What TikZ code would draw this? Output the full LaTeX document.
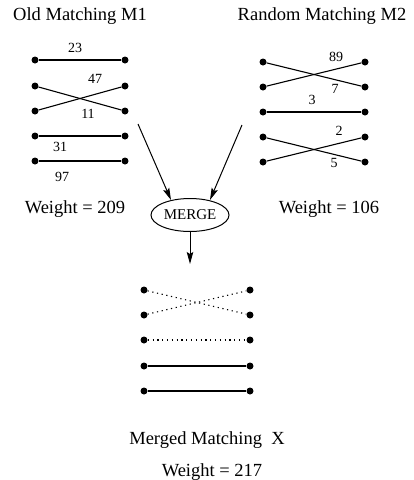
\documentclass[tikz,border=0pt]{standalone}
\usepackage{fontspec}
\setmainfont{Liberation Serif}
\usetikzlibrary{arrows.meta,shapes.geometric}
\tikzset{
  dot/.style={circle,fill=black,inner sep=0pt,minimum size=7pt},
  edge/.style={line width=1.1pt},
  dotedge/.style={line width=1.1pt,dash pattern=on 1.2pt off 3.6pt},
  num/.style={font=\fontsize{14}{16}\selectfont,inner sep=0pt},
  title/.style={font=\fontsize{18.5}{21}\selectfont,inner sep=0pt},
  arr/.style={line width=1pt,-{Stealth[length=12pt,width=6.5pt,inset=2pt]}},
}
\begin{document}
\begin{tikzpicture}[x=1pt,y=-1pt]
\useasboundingbox (0,0) rectangle (414,480);
% titles
\node[title] (t1) at (80,16) {Old Matching M1};
\node[title] (t2) at (322,16) {Random Matching M2};
% left group
\foreach \i/\y in {1/60,2/86,3/111,4/136,5/161}{
  \node[dot] (La\i) at (35,\y) {};
  \node[dot] (Lb\i) at (125,\y) {};
}
\draw[edge] (La1) -- (Lb1);
\draw[edge] (La2) -- (Lb3);
\draw[edge] (La3) -- (Lb2);
\draw[edge] (La4) -- (Lb4);
\draw[edge] (La5) -- (Lb5);
\node[num] (n23) at (75,48) {23};
\node[num] (n47) at (95,79) {47};
\node[num] (n11) at (88,114) {11};
\node[num] (n31) at (60,147) {31};
\node[num] (n97) at (62,177) {97};
\node[title] (w1) at (75,209) {Weight = 209};
% right group
\foreach \i/\y in {1/62,2/87,3/112,4/137,5/162}{
  \node[dot] (Ra\i) at (263,\y) {};
  \node[dot] (Rb\i) at (365,\y) {};
}
\draw[edge] (Ra1) -- (Rb2);
\draw[edge] (Ra2) -- (Rb1);
\draw[edge] (Ra3) -- (Rb3);
\draw[edge] (Ra4) -- (Rb5);
\draw[edge] (Ra5) -- (Rb4);
\node[num] (n89) at (336,57) {89};
\node[num] (n7) at (335,89) {7};
\node[num] (n3) at (312,100) {3};
\node[num] (n2) at (339,131) {2};
\node[num] (n5) at (334,163) {5};
\node[title] (w2) at (329,209) {Weight = 106};
% merge
\node[ellipse,draw,line width=1pt,minimum width=78pt,minimum height=33pt,inner sep=0pt,
      font=\fontsize{15}{17}\selectfont] (m) at (190,215) {MERGE};
\coordinate (a1) at (138,124);
\coordinate (a1e) at (171,200);
\coordinate (a2) at (242,125);
\coordinate (a2e) at (210,200);
\draw[arr] (a1) -- (a1e);
\draw[arr] (a2) -- (a2e);
\coordinate (d1) at (190,264);
\draw[arr] (m.south) -- (d1);
% merged
\foreach \i/\y in {1/290,2/315,3/340,4/366,5/391}{
  \node[dot] (Ma\i) at (144,\y) {};
  \node[dot] (Mb\i) at (250,\y) {};
}
\draw[dotedge] (Ma1) -- (Mb2);
\draw[dotedge] (Ma2) -- (Mb1);
\draw[dotedge] (Ma3) -- (Mb3);
\draw[edge] (Ma4) -- (Mb4);
\draw[edge] (Ma5) -- (Mb5);
\node[title] (t3) at (207,440) {Merged Matching\ \ X};
\node[title] (w3) at (212,472) {Weight = 217};
\end{tikzpicture}
\end{document}
